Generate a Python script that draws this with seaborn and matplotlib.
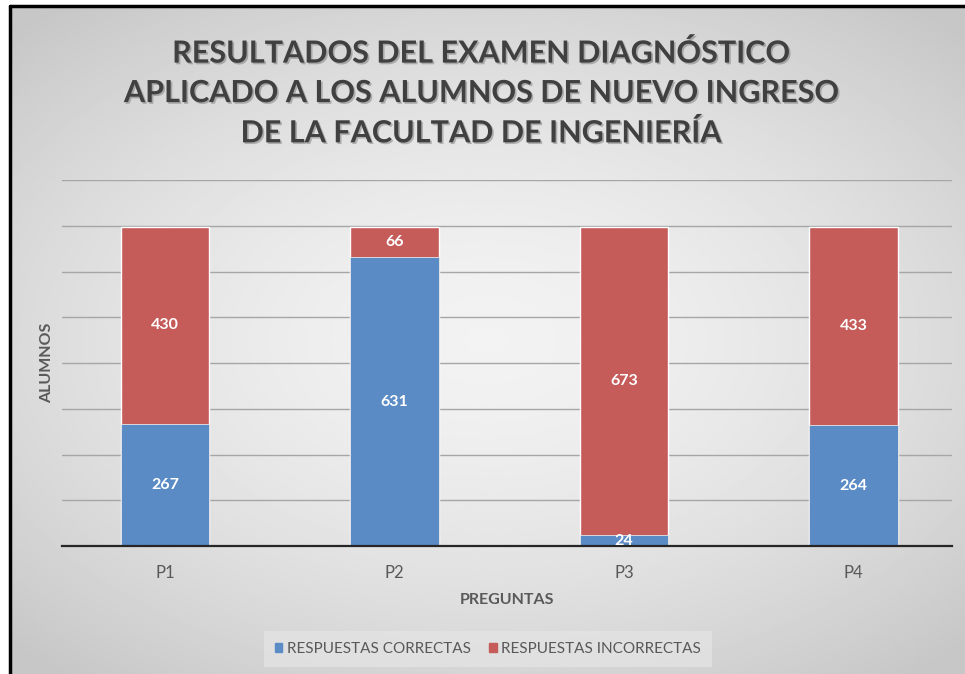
import numpy as np
import pandas as pd
import matplotlib.pyplot as plt
import matplotlib.patheffects as pe
import seaborn as sns
from matplotlib.lines import Line2D

preguntas = ["P1", "P2", "P3", "P4"]
correctas = [267, 631, 24, 264]
incorrectas = [430, 66, 673, 433]
series = ["RESPUESTAS CORRECTAS", "RESPUESTAS INCORRECTAS"]
titulo = "RESULTADOS DEL EXAMEN DIAGNÓSTICO\nAPLICADO A LOS ALUMNOS DE NUEVO INGRESO\nDE LA FACULTAD DE INGENIERÍA"

azul = "#5b8bc5"
rojo = "#c55c5a"
gris_txt = "#595959"

df = pd.DataFrame({"pregunta": preguntas, "correctas": correctas, "incorrectas": incorrectas})
df["total"] = df["correctas"] + df["incorrectas"]

sns.set_theme(style="white")
plt.rcParams["font.family"] = ["Lato", "DejaVu Sans"]

fig = plt.figure(figsize=(9.65, 6.74), dpi=100, facecolor="white")

# radial grey background (like the Excel chart area)
bg = fig.add_axes([9 / 965, 0, 1 - 9 / 965, 1 - 6 / 674], zorder=-10)
yy, xx = np.mgrid[-1:1:300j, -1:1:400j]
r = np.sqrt((xx * 0.95) ** 2 + (yy * 1.05) ** 2)
bg.imshow(0.95 - 0.17 * np.clip(r / 1.35, 0, 1) ** 1.6, cmap="gray", vmin=0, vmax=1,
          aspect="auto", extent=[0, 1, 0, 1], interpolation="bilinear")
bg.set_axis_off()
fig.add_artist(Line2D([9.5 / 965, 9.5 / 965], [0, 1 - 5.5 / 674], color="black", lw=2.5))
fig.add_artist(Line2D([9.5 / 965, 1], [1 - 5.5 / 674, 1 - 5.5 / 674], color="black", lw=2.5))

ax = fig.add_axes([62 / 965, 128 / 674, 890 / 965, (546 - 180) / 674])
ax.patch.set_alpha(0)

sns.barplot(data=df, x="pregunta", y="total", color=rojo, width=0.385, saturation=1, ax=ax)
sns.barplot(data=df, x="pregunta", y="correctas", color=azul, width=0.385, saturation=1,
            edgecolor="#e8e8e8", linewidth=0.6, ax=ax)

for i, row in df.iterrows():
    ax.text(i, row["correctas"] / 2, str(row["correctas"]), ha="center", va="center",
            color="white", fontsize=11.5, fontweight="bold")
    ax.text(i, row["correctas"] + row["incorrectas"] / 2, str(row["incorrectas"]),
            ha="center", va="center", color="white", fontsize=11.5, fontweight="bold")

ax.set_ylim(0, 800)
ax.set_xlim(-0.45, 3.43)
ax.set_yticks(range(100, 801, 100))
ax.yaxis.grid(True, color="#a6a6a6", lw=1)
ax.set_axisbelow(True)
ax.tick_params(axis="y", left=False, labelleft=False)
ax.tick_params(axis="x", bottom=False, pad=8, labelsize=12, labelcolor=gris_txt)
for s in ["top", "right", "left"]:
    ax.spines[s].set_visible(False)
ax.spines["bottom"].set_color("#262626")
ax.spines["bottom"].set_linewidth(1.6)

ax.set_xlabel("PREGUNTAS", fontsize=11.5, fontweight="bold", color=gris_txt, labelpad=8)
ax.set_ylabel("ALUMNOS", fontsize=11.5, fontweight="bold", color=gris_txt, labelpad=6)

fig.text(481 / 965, 1 - 93 / 674, titulo, ha="center", va="center", fontsize=22,
         fontweight="bold", color="#404040", linespacing=1.5,
         path_effects=[pe.SimplePatchShadow(offset=(1.2, -1.2), alpha=0.25), pe.Normal()])

handles = [plt.Rectangle((0, 0), 1, 1, color=azul), plt.Rectangle((0, 0), 1, 1, color=rojo)]
leg = fig.legend(handles, series, loc="center", bbox_to_anchor=(488 / 965, 1 - 649 / 674),
                 ncol=2, frameon=True, fontsize=11, handlelength=0.5, handleheight=0.5,
                 handletextpad=0.3, columnspacing=1.2, fancybox=False, borderpad=0.7)
leg.get_frame().set_facecolor("#e3e3e3")
leg.get_frame().set_edgecolor("none")
for t in leg.get_texts():
    t.set_color(gris_txt)

fig.savefig("out.png", dpi=100, facecolor=fig.get_facecolor())
